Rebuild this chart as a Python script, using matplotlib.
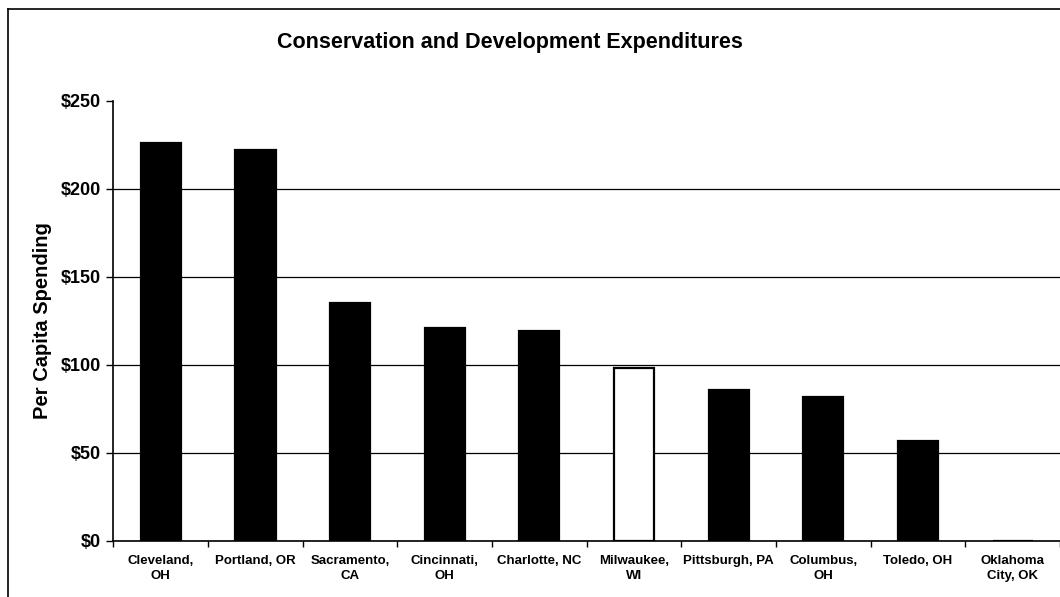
import matplotlib.pyplot as plt
import numpy as np
from matplotlib.ticker import FixedLocator, FuncFormatter

cities = ["Cleveland,\nOH", "Portland, OR", "Sacramento,\nCA", "Cincinnati,\nOH",
          "Charlotte, NC", "Milwaukee,\nWI", "Pittsburgh, PA", "Columbus,\nOH",
          "Toledo, OH", "Oklahoma\nCity, OK"]
spending = [226, 222, 135, 121, 119, 98, 86, 82, 57, 0]
highlight = "Milwaukee,\nWI"

plt.rcParams['font.family'] = ['Liberation Sans', 'DejaVu Sans']

fig = plt.figure(figsize=(10.6, 5.97), dpi=100)
ax = fig.add_axes([0.107, 0.094, 0.893, 0.737])

x = np.arange(len(cities))
colors = ['white' if c == highlight else 'black' for c in cities]
ax.bar(x, spending, width=0.425, color=colors, edgecolor='black', linewidth=1.6, zorder=3)

ax.set_xlim(-0.5, len(cities) - 0.5)
ax.set_ylim(0, 250)
ax.set_yticks(np.arange(0, 251, 50))
ax.yaxis.set_major_formatter(FuncFormatter(lambda v, p: f"${v:.0f}"))
ax.grid(axis='y', color='black', linewidth=0.9, zorder=1)
# no gridline at the top value
ax.get_ygridlines()[-1].set_visible(False)

# category labels at centres, tick marks at category boundaries
ax.set_xticks(x)
ax.set_xticklabels(cities, fontsize=9.5, fontweight='bold', linespacing=1.4)
ax.tick_params(axis='x', which='major', length=0, pad=10)
ax.xaxis.set_minor_locator(FixedLocator(np.arange(-0.5, len(cities), 1.0)))
ax.tick_params(axis='x', which='minor', length=4, width=1, direction='out')
ax.tick_params(axis='y', length=5, width=1, labelsize=13, pad=4)
for lab in ax.get_yticklabels():
    lab.set_fontweight('bold')

for side in ['top', 'right']:
    ax.spines[side].set_visible(False)
for side in ['left', 'bottom']:
    ax.spines[side].set_linewidth(1.2)

ax.set_ylabel("Per Capita Spending", fontsize=14.5, fontweight='bold', labelpad=6)
fig.text(0.481, 0.928, "Conservation and Development Expenditures",
         ha='center', va='center', fontsize=15.5, fontweight='bold')

# outer frame (left and top edges visible in the scan)
fig.add_artist(plt.Line2D([0.008, 0.008], [0.0, 0.985], color='black', linewidth=1.2,
                          transform=fig.transFigure))
fig.add_artist(plt.Line2D([0.008, 1.0], [0.985, 0.985], color='black', linewidth=1.2,
                          transform=fig.transFigure))

fig.savefig("out.png", dpi=100)
